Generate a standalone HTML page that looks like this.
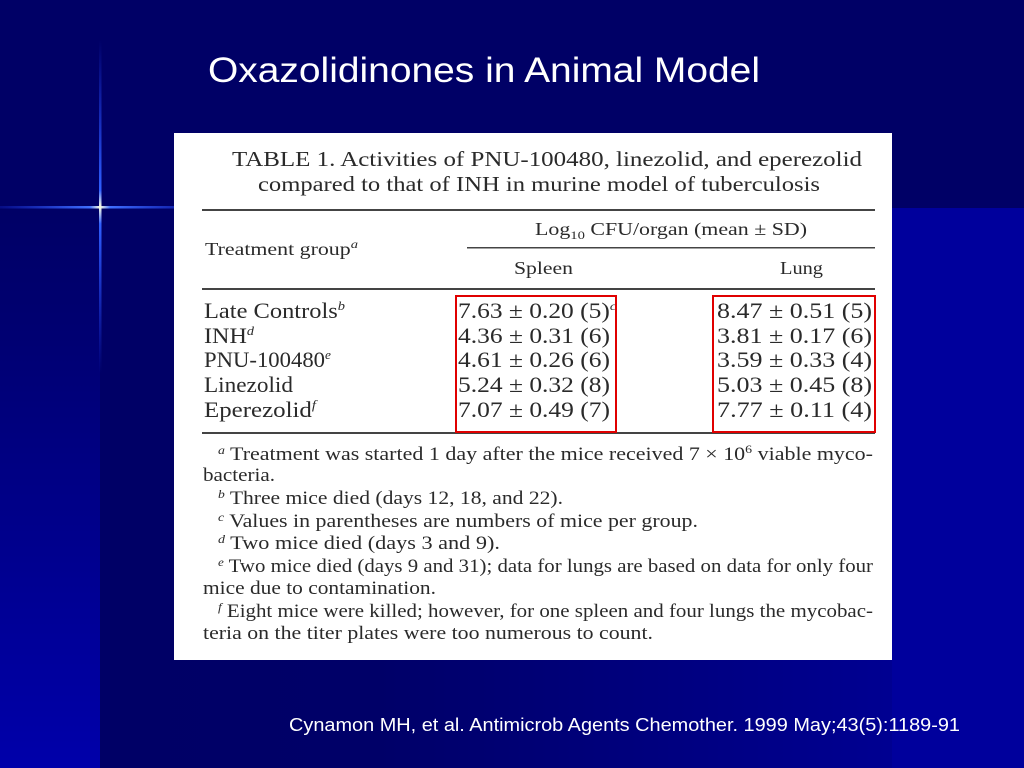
<!DOCTYPE html>
<html><head><meta charset="utf-8"><style>
html,body{margin:0;padding:0;background:#000066;}
svg{display:block}
</style></head><body>
<svg width="1024" height="768" viewBox="0 0 1024 768" xmlns="http://www.w3.org/2000/svg">
<defs>
<linearGradient id="lv" x1="0" y1="0" x2="0" y2="1">
<stop offset="0" stop-color="#000066"/><stop offset="0.2" stop-color="#000070"/><stop offset="1" stop-color="#0000aa"/>
</linearGradient>
<linearGradient id="mh" x1="0" y1="0" x2="1" y2="0">
<stop offset="0" stop-color="#000066"/><stop offset="0.3" stop-color="#000068"/><stop offset="1" stop-color="#00009c"/>
</linearGradient>
<linearGradient id="vl" x1="0" y1="0" x2="0" y2="1">
<stop offset="0" stop-color="#2040ff" stop-opacity="0"/><stop offset="0.45" stop-color="#3060ff"/><stop offset="0.5" stop-color="#ffffe0"/><stop offset="0.55" stop-color="#3060ff"/><stop offset="1" stop-color="#2040ff" stop-opacity="0"/>
</linearGradient>
<linearGradient id="hl" x1="0" y1="0" x2="1" y2="0">
<stop offset="0" stop-color="#2040ff" stop-opacity="0.2"/><stop offset="0.45" stop-color="#4070ff"/><stop offset="0.5" stop-color="#ffffe0"/><stop offset="0.55" stop-color="#4070ff"/><stop offset="1" stop-color="#2040ff" stop-opacity="0.3"/>
</linearGradient>
</defs>
<rect x="0" y="0" width="1024" height="768" fill="#000066"/>
<rect x="0" y="208" width="100" height="560" fill="url(#lv)"/>
<rect x="100" y="208" width="924" height="560" fill="url(#mh)"/>
<rect x="892" y="208" width="132" height="560" fill="#00009c"/>
<rect x="99" y="40" width="2.5" height="334" fill="url(#vl)"/>
<rect x="0" y="206" width="200" height="2.5" fill="url(#hl)"/>

<text x="208" y="82" font-family="Liberation Sans, sans-serif" font-size="35" fill="#fff" textLength="552" lengthAdjust="spacingAndGlyphs">Oxazolidinones in Animal Model</text>

<rect x="174" y="133" width="718" height="527" fill="#fff"/>
<g font-family="Liberation Serif, serif" fill="#2a2a2a">
<text x="232" y="166" font-size="21" textLength="630" lengthAdjust="spacingAndGlyphs">TABLE 1. Activities of PNU-100480, linezolid, and eperezolid</text>
<text x="258" y="191" font-size="21" textLength="562" lengthAdjust="spacingAndGlyphs">compared to that of INH in murine model of tuberculosis</text>
<rect x="202" y="209" width="673" height="2" fill="#444"/>
<text x="535" y="235" font-size="18" textLength="272" lengthAdjust="spacingAndGlyphs">Log<tspan font-size="12" dy="4">10</tspan><tspan dy="-4"> CFU/organ (mean ± SD)</tspan></text>
<rect x="467" y="247" width="408" height="1.5" fill="#444"/>
<text x="205" y="255" font-size="18" textLength="153" lengthAdjust="spacingAndGlyphs">Treatment group<tspan font-size="12" dy="-7" font-style="italic">a</tspan></text>
<text x="514" y="274" font-size="18" textLength="59" lengthAdjust="spacingAndGlyphs">Spleen</text>
<text x="780" y="274" font-size="18" textLength="43" lengthAdjust="spacingAndGlyphs">Lung</text>
<rect x="202" y="288" width="673" height="2" fill="#444"/>
<g font-size="22">
<text x="204" y="318" textLength="141" lengthAdjust="spacingAndGlyphs">Late Controls<tspan font-size="13" dy="-8" font-style="italic">b</tspan></text>
<text x="204" y="343" textLength="50" lengthAdjust="spacingAndGlyphs">INH<tspan font-size="13" dy="-8" font-style="italic">d</tspan></text>
<text x="204" y="367" textLength="127" lengthAdjust="spacingAndGlyphs">PNU-100480<tspan font-size="13" dy="-8" font-style="italic">e</tspan></text>
<text x="204" y="392" textLength="89" lengthAdjust="spacingAndGlyphs">Linezolid</text>
<text x="204" y="417" textLength="112" lengthAdjust="spacingAndGlyphs">Eperezolid<tspan font-size="13" dy="-8" font-style="italic">f</tspan></text>
<text x="458" y="318" textLength="158" lengthAdjust="spacingAndGlyphs">7.63 ± 0.20 (5)<tspan font-size="12" dy="-8" font-style="italic">c</tspan></text>
<text x="458" y="343" textLength="152" lengthAdjust="spacingAndGlyphs">4.36 ± 0.31 (6)</text>
<text x="458" y="367" textLength="152" lengthAdjust="spacingAndGlyphs">4.61 ± 0.26 (6)</text>
<text x="458" y="392" textLength="152" lengthAdjust="spacingAndGlyphs">5.24 ± 0.32 (8)</text>
<text x="458" y="417" textLength="152" lengthAdjust="spacingAndGlyphs">7.07 ± 0.49 (7)</text>
<text x="717" y="318" textLength="155" lengthAdjust="spacingAndGlyphs">8.47 ± 0.51 (5)</text>
<text x="717" y="343" textLength="155" lengthAdjust="spacingAndGlyphs">3.81 ± 0.17 (6)</text>
<text x="717" y="367" textLength="155" lengthAdjust="spacingAndGlyphs">3.59 ± 0.33 (4)</text>
<text x="717" y="392" textLength="155" lengthAdjust="spacingAndGlyphs">5.03 ± 0.45 (8)</text>
<text x="717" y="417" textLength="155" lengthAdjust="spacingAndGlyphs">7.77 ± 0.11 (4)</text>
</g>
<rect x="202" y="432" width="673" height="2" fill="#444"/>
<g font-size="19">
<text x="218" y="460" textLength="655" lengthAdjust="spacingAndGlyphs"><tspan font-size="12" dy="-6" font-style="italic">a</tspan><tspan dy="6"> Treatment was started 1 day after the mice received 7 × 10</tspan><tspan font-size="12" dy="-7">6</tspan><tspan dy="7"> viable myco-</tspan></text>
<text x="203" y="481" textLength="72" lengthAdjust="spacingAndGlyphs">bacteria.</text>
<text x="218" y="504" textLength="345" lengthAdjust="spacingAndGlyphs"><tspan font-size="12" dy="-6" font-style="italic">b</tspan><tspan dy="6"> Three mice died (days 12, 18, and 22).</tspan></text>
<text x="218" y="527" textLength="480" lengthAdjust="spacingAndGlyphs"><tspan font-size="12" dy="-6" font-style="italic">c</tspan><tspan dy="6"> Values in parentheses are numbers of mice per group.</tspan></text>
<text x="218" y="549" textLength="282" lengthAdjust="spacingAndGlyphs"><tspan font-size="12" dy="-6" font-style="italic">d</tspan><tspan dy="6"> Two mice died (days 3 and 9).</tspan></text>
<text x="218" y="572" textLength="655" lengthAdjust="spacingAndGlyphs"><tspan font-size="12" dy="-6" font-style="italic">e</tspan><tspan dy="6"> Two mice died (days 9 and 31); data for lungs are based on data for only four</tspan></text>
<text x="203" y="594" textLength="233" lengthAdjust="spacingAndGlyphs">mice due to contamination.</text>
<text x="218" y="617" textLength="655" lengthAdjust="spacingAndGlyphs"><tspan font-size="12" dy="-6" font-style="italic">f</tspan><tspan dy="6"> Eight mice were killed; however, for one spleen and four lungs the mycobac-</tspan></text>
<text x="203" y="639" textLength="450" lengthAdjust="spacingAndGlyphs">teria on the titer plates were too numerous to count.</text>
</g>
</g>
<rect x="456" y="296" width="160" height="136" fill="none" stroke="#e00000" stroke-width="2"/>
<rect x="713" y="296" width="162" height="136" fill="none" stroke="#e00000" stroke-width="2"/>

<text x="289" y="731" font-family="Liberation Sans, sans-serif" font-size="18" fill="#fff" textLength="671" lengthAdjust="spacingAndGlyphs">Cynamon MH, et al. Antimicrob Agents Chemother. 1999 May;43(5):1189-91</text>
</svg>
</body></html>
